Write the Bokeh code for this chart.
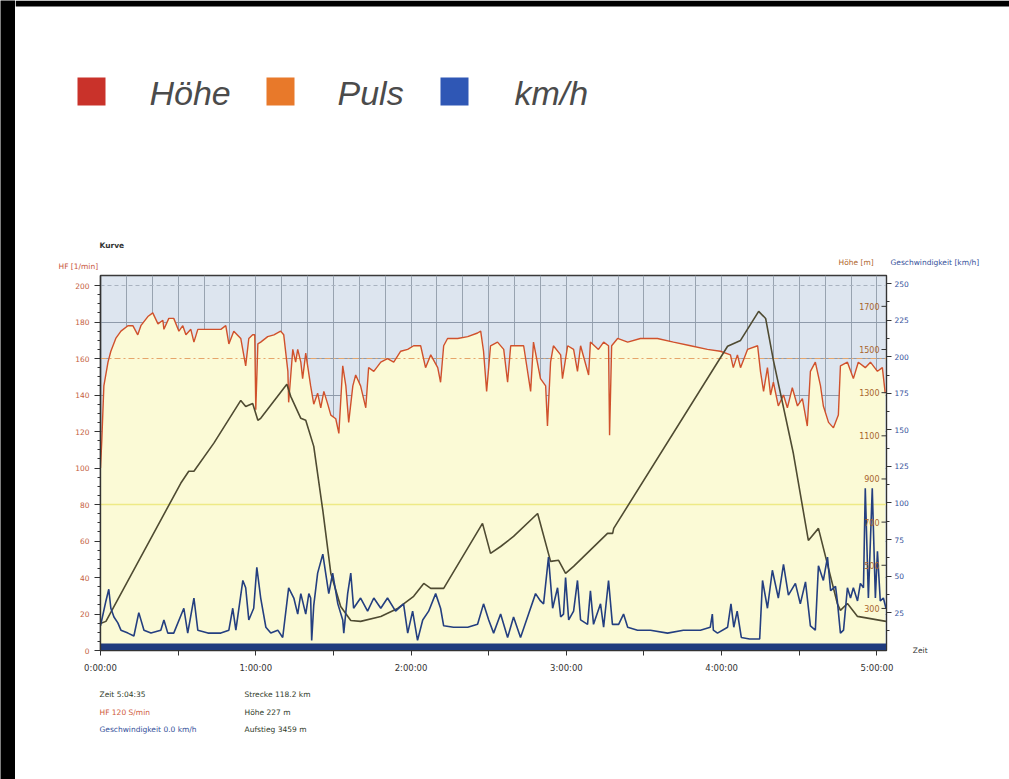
import numpy as np
from bokeh.plotting import figure
from bokeh.layouts import row, column
from bokeh.models import Range1d, LinearAxis, FixedTicker
from bokeh.core.properties import value
from bokeh.embed import file_html
from bokeh.resources import INLINE

# ---------------- data (time in minutes) ----------------
hf_t = [0.0, 0.5, 1.3, 2.9, 4.0, 5.9, 7.9, 10.6, 12.5, 14.4,
        15.6, 18.3, 20.2, 22.2, 24.1, 24.5, 26.4, 28.3, 30.3, 31.8,
        33.0, 34.9, 36.1, 37.6, 39.9, 43.8, 46.5, 48.4, 49.6, 51.5,
        54.2, 56.1, 57.3, 58.8, 59.6, 60.0, 60.8, 61.9, 64.6, 67.0,
        69.6, 70.8, 72.4, 72.7, 74.3, 75.4, 76.2, 77.4, 78.1, 79.3,
        81.2, 82.4, 83.9, 85.1, 86.3, 87.8, 89.0, 90.9, 92.1, 93.6,
        94.8, 95.9, 97.5, 98.6, 100.5, 102.5, 103.6, 105.6, 108.3, 110.9,
        113.3, 116.0, 118.7, 121.0, 123.7, 125.6, 127.6, 130.3, 131.4, 132.6,
        134.1, 138.0, 141.9, 145.7, 146.9, 148.0, 149.2, 150.7, 153.4, 155.8,
        157.3, 158.5, 161.2, 163.5, 166.2, 167.3, 170.0, 172.0, 172.7, 173.9,
        175.0, 177.8, 178.5, 180.5, 182.8, 184.3, 185.5, 188.6, 189.3, 192.4,
        194.4, 196.3, 196.7, 197.5, 199.8, 203.7, 208.6, 215.2, 221.4, 228.0,
        234.5, 239.5, 243.4, 244.5, 246.1, 247.3, 250.0, 253.9, 255.0, 256.2,
        257.7, 258.9, 260.0, 261.9, 263.9, 265.4, 267.3, 269.3, 271.2, 273.1,
        274.3, 276.2, 278.2, 279.3, 281.3, 283.2, 285.1, 285.9, 288.6, 290.9,
        292.8, 295.5, 297.5, 300.2, 302.1, 303.2]
hf = [100, 115, 145, 158, 164, 171, 175, 178, 178, 173,
      178, 183, 185, 179, 181, 176, 182, 182, 175, 178,
      173, 176, 169, 176, 176, 176, 176, 178, 168, 175,
      171, 156, 171, 173, 173, 132, 168, 169, 172, 173,
      175, 173, 153, 136, 165, 158, 165, 158, 149, 163,
      145, 135, 141, 133, 142, 135, 129, 127, 119, 156,
      145, 125, 145, 151, 145, 133, 155, 153, 158, 160,
      158, 164, 165, 167, 167, 155, 162, 155, 147, 167,
      171, 171, 172, 174, 175, 164, 142, 167, 169, 165,
      147, 167, 167, 167, 142, 169, 149, 145, 123, 158,
      167, 162, 149, 167, 165, 153, 167, 151, 169, 165,
      169, 167, 118, 167, 171, 169, 171, 171, 169, 167,
      165, 164, 162, 155, 162, 155, 165, 167, 153, 142,
      155, 140, 147, 134, 140, 133, 144, 134, 138, 123,
      153, 158, 145, 134, 125, 122, 129, 156, 158, 149,
      158, 155, 158, 153, 155, 141]

spd_t = [0.0, 2.1, 3.2, 4.0, 5.2, 6.7, 7.9, 10.6, 12.9, 14.8,
         16.8, 19.5, 23.3, 24.5, 26.0, 28.3, 32.2, 33.7, 36.1, 37.6,
         41.5, 46.5, 49.6, 51.1, 52.3, 55.0, 56.1, 57.3, 59.2, 60.4,
         61.9, 63.9, 65.8, 68.5, 70.4, 72.7, 74.7, 76.2, 77.4, 79.3,
         80.5, 81.2, 81.6, 82.4, 83.9, 85.9, 87.0, 88.2, 89.7, 91.7,
         93.6, 94.0, 95.5, 96.7, 97.8, 100.5, 103.2, 105.6, 108.3, 110.9,
         114.0, 117.1, 118.7, 120.6, 122.5, 124.5, 126.8, 129.5, 131.4, 132.6,
         136.4, 141.9, 145.7, 148.0, 150.0, 151.9, 154.6, 157.3, 159.6, 162.3,
         165.4, 168.1, 170.0, 171.2, 173.1, 174.7, 176.6, 177.8, 178.9, 179.7,
         180.9, 182.8, 184.3, 185.5, 188.2, 189.3, 190.5, 193.2, 194.4, 196.3,
         197.8, 200.2, 202.1, 203.7, 207.5, 212.5, 219.1, 225.2, 231.8, 235.6,
         236.4, 236.8, 238.4, 242.3, 243.6, 244.7, 246.0, 247.6, 250.8, 254.7,
         255.8, 257.7, 259.6, 261.9, 263.9, 265.8, 268.5, 270.4, 272.4, 274.3,
         276.2, 277.4, 279.3, 280.9, 282.1, 284.0, 284.7, 285.9, 287.1, 288.6,
         289.8, 290.9, 292.5, 293.6, 294.8, 295.5, 296.7, 298.2, 299.4, 300.2,
         301.3, 302.5, 303.5]
spd = [16, 33, 41, 28, 22, 18, 13, 11, 9, 25,
       13, 11, 13, 20, 11, 11, 28, 11, 35, 13,
       11, 11, 13, 28, 13, 47, 42, 20, 28, 56,
       35, 15, 11, 13, 8, 42, 35, 24, 38, 24,
       38, 35, 6, 30, 52, 65, 52, 38, 52, 31,
       20, 11, 38, 52, 28, 35, 26, 35, 28, 35,
       26, 31, 11, 26, 6, 20, 26, 38, 28, 16,
       15, 15, 17, 31, 20, 11, 24, 8, 22, 8,
       24, 38, 33, 31, 63, 28, 42, 22, 24, 49,
       20, 26, 47, 20, 17, 40, 17, 31, 15, 47,
       17, 17, 24, 15, 13, 13, 11, 13, 13, 15,
       24, 13, 11, 15, 31, 15, 26, 8, 7, 7,
       47, 28, 54, 35, 58, 37, 45, 31, 46, 16,
       13, 57, 47, 63, 40, 43, 33, 11, 13, 42,
       35, 42, 33, 45, 42, 110, 35, 110, 35, 67,
       33, 35, 28]

alt_t = [0.0, 2.1, 31.0, 34.1, 36.1, 43.8, 54.2, 56.1, 58.8, 60.8,
         61.9, 72.0, 73.5, 77.4, 79.3, 82.4, 85.9, 89.0, 92.8, 96.7,
         100.5, 108.3, 114.8, 121.0, 124.9, 127.6, 132.6, 147.6, 150.7, 154.6,
         159.6, 168.9, 173.9, 177.0, 179.7, 182.8, 195.9, 197.9, 198.3, 242.3,
         247.3, 254.3, 257.0, 260.0, 267.7, 273.5, 277.4, 284.7, 285.9, 288.6,
         292.5, 303.5]
alt = [230, 240, 880, 936, 936, 1066, 1264, 1236, 1250, 1172,
       1181, 1339, 1283, 1181, 1172, 1051, 754, 462, 309, 244,
       240, 263, 300, 356, 416, 393, 393, 694, 555, 587,
       634, 740, 518, 523, 462, 495, 648, 648, 671, 1515,
       1542, 1677, 1644, 1450, 1019, 615, 671, 323, 291, 323,
       263, 240]

t_end = 303.7            # minutes shown (Zeit 5:04:35)
hf_limit = 160           # dashed threshold line
ref_line = 80            # faint yellow reference line
top_line = 200           # dashed top grid line
band_top = 3.8           # height of the dark band at the bottom

x_ticks = [0, 30, 60, 90, 120, 150, 180, 210, 240, 270, 300]
x_tick_labels = ["0:00:00", "", "1:00:00", "", "2:00:00", "", "3:00:00", "",
                 "4:00:00", "", "5:00:00"]
hf_ticks = [0, 20, 40, 60, 80, 100, 120, 140, 160, 180, 200]
spd_ticks = [25, 50, 75, 100, 125, 150, 175, 200, 225, 250]
alt_ticks = [300, 500, 700, 900, 1100, 1300, 1500, 1700]
alt_labels = ["300", "500", "700", "900", "1100", "1300", "1500", "1700"]

legend_names = ["Höhe", "Puls", "km/h"]
legend_colors = ["#c9322a", "#e8792a", "#2f57b5"]

summary_left = ["Zeit  5:04:35", "HF  120 S/min", "Geschwindigkeit  0.0 km/h"]
summary_left_colors = ["#2f3b2a", "#cf5a3a", "#34509a"]
summary_right = ["Strecke  118.2 km", "Höhe  227 m", "Aufstieg  3459 m"]

FONT = "DejaVu Sans"
TOTAL_W, TOTAL_H = 1009, 779
STRIP_W, BAND_H = 15, 6                      # black edges of the photographed page
W = TOTAL_W - STRIP_W                        # 994
H_TOP, H_MAIN = 272, 408
H_BOT = TOTAL_H - H_TOP - H_MAIN             # 99


def blank(width, height, color="white"):
    f = figure(width=width, height=height, output_backend="svg", toolbar_location=None,
               title=None, x_range=Range1d(0, width), y_range=Range1d(height, 0),
               min_border=0, x_axis_type=None, y_axis_type=None, frame_align=False)
    f.grid.visible = False
    f.outline_line_color = None
    f.background_fill_color = color
    f.border_fill_color = color
    return f


# ---------------- header (legend + axis titles) ----------------
head = blank(W, H_TOP)
head.quad(left=[0], right=[W], top=[0], bottom=[BAND_H], fill_color="black",
          line_color=None)
sq_left = [62, 251, 425]
txt_left = [134, 322, 499]
head.quad(left=sq_left, right=[v + 28 for v in sq_left], top=[77] * 3, bottom=[105] * 3,
          fill_color=legend_colors, line_color=None)
head.text(x=txt_left, y=[92] * 3, text=legend_names, text_font=value("Liberation Sans"),
          text_font_size="34px", text_font_style="italic", text_color="#4b4b4b",
          text_baseline="alphabetic")
head.text(x=[84], y=[245], text=["Kurve"], text_font=value(FONT), text_font_size="7.5px",
          text_font_style="bold", text_color="#333333", text_baseline="middle")
head.text(x=[43], y=[266], text=["HF [1/min]"], text_font=value(FONT),
          text_font_size="7.5px", text_color="#c8553a", text_baseline="middle")
head.text(x=[823], y=[262], text=["Höhe [m]"], text_font=value(FONT),
          text_font_size="7.5px", text_color="#b0652a", text_baseline="middle")
head.text(x=[875], y=[262], text=["Geschwindigkeit [km/h]"], text_font=value(FONT),
          text_font_size="7.5px", text_color="#34509a", text_baseline="middle")

# ---------------- main chart ----------------
p = figure(width=W, height=H_MAIN, output_backend="svg", toolbar_location=None,
           title=None, x_range=Range1d(0, t_end), y_range=Range1d(0, 205.5),
           min_border_left=85, min_border_right=123, min_border_top=3,
           min_border_bottom=30, frame_align=False)
p.extra_y_ranges = {"spd": Range1d(-0.9, 255.6), "alt": Range1d(105, 1843)}

p.background_fill_color = "#dde5ef"
p.border_fill_color = "white"
p.outline_line_color = "#3a3a3a"
p.outline_line_width = 1.4

p.xgrid.ticker = FixedTicker(ticks=list(range(0, 301, 10)))
p.xgrid.grid_line_color = "#98a3b0"
p.ygrid.ticker = FixedTicker(ticks=hf_ticks[1:-1])
p.ygrid.grid_line_color = "#8e9aaa"

p.xaxis.ticker = FixedTicker(ticks=x_ticks)
p.xaxis.major_label_overrides = dict(zip(x_ticks, x_tick_labels))
p.xaxis.major_label_text_font = FONT
p.xaxis.major_label_text_font_size = "8.5px"
p.xaxis.major_label_text_color = "#333333"
p.xaxis.major_label_standoff = 7
p.xaxis.axis_line_color = "#333333"
p.xaxis.major_tick_line_color = "#333333"
p.xaxis.major_tick_out = 5
p.xaxis.major_tick_in = 0
p.xaxis.minor_tick_line_color = None

p.yaxis.ticker = FixedTicker(ticks=hf_ticks,
                             minor_ticks=[v for v in range(0, 205, 5) if v % 20])
p.yaxis.major_label_text_font = FONT
p.yaxis.major_label_text_font_size = "7.5px"
p.yaxis.major_label_text_color = "#c5603e"
p.yaxis.major_label_standoff = 5
p.yaxis.axis_line_color = "#333333"
p.yaxis.axis_line_width = 1.4
p.yaxis.major_tick_line_color = "#333333"
p.yaxis.major_tick_out = 6
p.yaxis.major_tick_in = 0
p.yaxis.minor_tick_out = 3
p.yaxis.minor_tick_in = 0
p.yaxis.minor_tick_line_color = "#333333"

spd_axis = LinearAxis(y_range_name="spd",
                      ticker=FixedTicker(ticks=spd_ticks,
                                         minor_ticks=[12.5 + 25 * i for i in range(10)]))
spd_axis.major_label_text_font = FONT
spd_axis.major_label_text_font_size = "7.5px"
spd_axis.major_label_text_color = "#34509a"
spd_axis.major_label_standoff = 3
spd_axis.axis_line_color = "#333333"
spd_axis.major_tick_line_color = "#333333"
spd_axis.major_tick_out = 5
spd_axis.major_tick_in = 0
spd_axis.minor_tick_out = 3
spd_axis.minor_tick_in = 0
spd_axis.minor_tick_line_color = "#333333"
spd_axis.axis_label = "Zeit"
spd_axis.axis_label_orientation = "horizontal"
spd_axis.axis_label_align = "start"
spd_axis.axis_label_standoff = 1
spd_axis.axis_label_text_font = FONT
spd_axis.axis_label_text_font_size = "7.5px"
spd_axis.axis_label_text_font_style = "normal"
spd_axis.axis_label_text_color = "#333333"
p.add_layout(spd_axis, "right")

p.hspan(y=[top_line], line_color="#a9b3c0", line_dash="4 3", line_width=1)
p.varea(x=hf_t, y1=0, y2=hf, fill_color="#fbfad6")
p.hspan(y=[ref_line], line_color="#eeea86", line_width=1.6)
p.hspan(y=[hf_limit], line_color="#e6a56a", line_dash="6 3 2 3", line_width=1)
p.quad(left=[0], right=[t_end], bottom=[0], top=[band_top],
       fill_color="#1f3b7d", line_color=None)

p.line(hf_t, hf, line_color="#d0512c", line_width=1.4)
p.line(alt_t, alt, y_range_name="alt", line_color="#4f4b32", line_width=1.6)
p.line(spd_t, spd, y_range_name="spd", line_color="#243f80", line_width=1.6)

p.ray(x=[t_end] * len(alt_ticks), y=alt_ticks, y_range_name="alt", length=5,
      length_units="screen", angle=np.pi, line_color="#333333", line_width=1)
p.text(x=[t_end] * len(alt_ticks), y=alt_ticks, text=alt_labels, y_range_name="alt",
       x_offset=-7, text_align="right", text_baseline="middle",
       text_font=value(FONT), text_font_size="8px", text_color="#a8642c")

# ---------------- summary below ----------------
bot = blank(W, H_BOT)
bot.text(x=[84] * 3, y=[14, 32, 49], text=summary_left, text_font=value(FONT),
         text_font_size="7.5px", text_color=summary_left_colors, text_baseline="middle")
bot.text(x=[229] * 3, y=[14, 32, 49], text=summary_right, text_font=value(FONT),
         text_font_size="7.5px", text_color="#2f3b2a", text_baseline="middle")

# ---------------- black left edge of the photo ----------------
strip = blank(STRIP_W, TOTAL_H, color="black")

layout = row(strip, column(head, p, bot, spacing=0), spacing=0)
open("out.html", "w").write(file_html(layout, INLINE))
